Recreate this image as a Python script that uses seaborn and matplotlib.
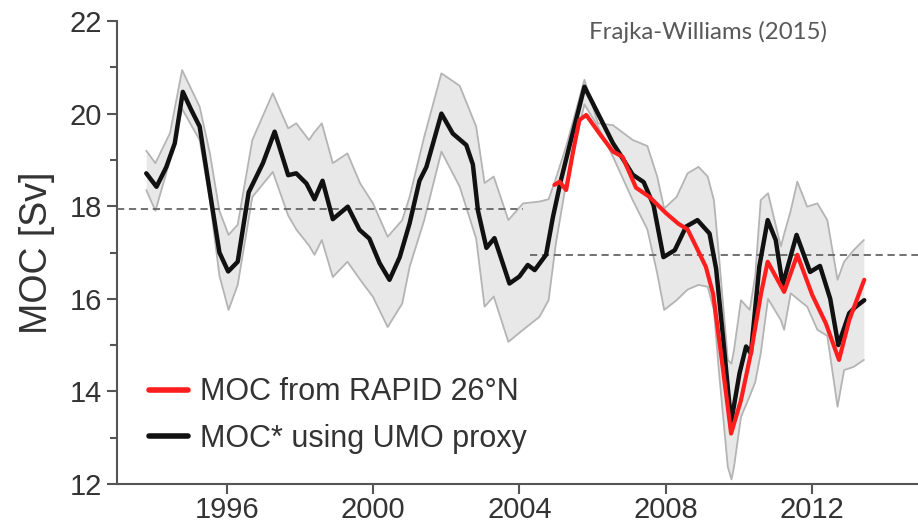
import matplotlib
matplotlib.use("Agg")
import matplotlib.pyplot as plt
import seaborn as sns
import pandas as pd

# ---- data ----
black_years = [1993.8, 1994.08, 1994.35, 1994.58, 1994.8, 1995.03, 1995.26, 1995.5, 1995.8, 1996.04,
               1996.3, 1996.6, 1996.99, 1997.31, 1997.68, 1997.9, 1998.18, 1998.4, 1998.62, 1998.9,
               1999.31, 1999.63, 1999.9, 2000.18, 2000.45, 2000.73, 2001.0, 2001.27, 2001.46, 2001.87,
               2002.18, 2002.55, 2002.73, 2002.87, 2003.1, 2003.32, 2003.73, 2004.0, 2004.23, 2004.42,
               2004.73, 2004.92, 2005.14, 2005.37, 2005.55, 2005.78, 2006.1, 2006.56, 2006.74, 2007.1,
               2007.4, 2007.67, 2007.94, 2008.25, 2008.56, 2008.87, 2009.2, 2009.38, 2009.56, 2009.79,
               2010.02, 2010.2, 2010.33, 2010.56, 2010.79, 2011.01, 2011.2, 2011.58, 2011.95, 2012.22,
               2012.5, 2012.72, 2013.02, 2013.2, 2013.43]
black_vals = [18.71, 18.42, 18.85, 19.36, 20.47, 20.08, 19.72, 18.5, 17.0, 16.59,
              16.8, 18.3, 18.93, 19.61, 18.67, 18.71, 18.49, 18.15, 18.55, 17.72,
              17.99, 17.49, 17.3, 16.77, 16.41, 16.9, 17.63, 18.55, 18.85, 20.0,
              19.57, 19.32, 18.9, 17.9, 17.1, 17.31, 16.33, 16.48, 16.73, 16.62,
              16.95, 17.77, 18.57, 19.3, 19.86, 20.58, 20.08, 19.36, 19.14, 18.68,
              18.52, 18.02, 16.9, 17.05, 17.56, 17.7, 17.41, 16.65, 15.25, 13.33,
              14.39, 14.97, 14.82, 16.69, 17.7, 17.27, 16.3, 17.38, 16.58, 16.71,
              16.0, 15.0, 15.69, 15.83, 15.97]

red_years = [2004.96, 2005.1, 2005.28, 2005.46, 2005.64, 2005.83, 2006.19, 2006.56, 2006.82, 2007.19,
             2007.56, 2008.01, 2008.35, 2008.6, 2008.85, 2009.1, 2009.3, 2009.56, 2009.79, 2010.06,
             2010.33, 2010.61, 2010.79, 2011.24, 2011.6, 2012.01, 2012.38, 2012.74, 2013.02, 2013.43]
red_vals = [18.46, 18.53, 18.35, 19.14, 19.86, 19.97, 19.57, 19.18, 19.07, 18.4,
            18.2, 17.85, 17.62, 17.5, 17.1, 16.69, 16.1, 14.53, 13.09, 13.81,
            14.82, 16.12, 16.8, 16.15, 16.95, 16.08, 15.47, 14.68, 15.54, 16.41]

band_years = [1993.8, 1994.05, 1994.45, 1994.78, 1995.26, 1995.54, 1995.8, 1996.05, 1996.3, 1996.7,
              1997.26, 1997.68, 1997.9, 1998.25, 1998.4, 1998.6, 1998.9, 1999.3, 1999.65, 2000.0,
              2000.4, 2000.8, 2001.0, 2001.4, 2001.87, 2002.37, 2002.82, 2003.05, 2003.3, 2003.7,
              2004.1, 2004.55, 2004.8, 2005.0, 2005.28, 2005.78, 2006.15, 2006.56, 2007.1, 2007.5,
              2007.77, 2007.96, 2008.3, 2008.6, 2008.9, 2009.15, 2009.32, 2009.45, 2009.7, 2009.8,
              2009.87, 2010.06, 2010.3, 2010.45, 2010.6, 2010.8, 2011.15, 2011.24, 2011.42, 2011.6,
              2011.87, 2012.15, 2012.42, 2012.7, 2012.88, 2013.14, 2013.42]
band_upper = [19.2, 18.93, 19.58, 20.94, 20.15, 19.14, 17.9, 17.38, 17.6, 19.43,
              20.44, 19.68, 19.79, 19.43, 19.6, 19.79, 18.93, 19.14, 18.49, 18.06,
              17.34, 17.7, 18.2, 19.5, 20.87, 20.6, 19.72, 18.5, 18.64, 17.7,
              18.06, 18.1, 18.15, 18.6, 19.29, 20.73, 19.79, 19.75, 19.43, 19.3,
              18.64, 17.95, 18.2, 18.71, 18.85, 18.64, 18.13, 17.0, 14.68, 14.6,
              14.9, 15.97, 15.76, 16.5, 18.13, 18.28, 17.13, 17.4, 17.9, 18.53,
              17.99, 18.06, 17.7, 16.41, 16.8, 17.05, 17.27]
band_lower = [18.35, 17.9, 19.0, 20.1, 19.43, 18.13, 16.5, 15.76, 16.3, 18.2,
              18.74, 17.8, 17.5, 17.15, 16.95, 17.27, 16.47, 16.8, 16.41, 16.04,
              15.39, 15.9, 16.69, 17.7, 19.18, 18.42, 17.3, 15.83, 16.05, 15.07,
              15.33, 15.61, 15.97, 17.2, 18.5, 20.2, 19.72, 19.07, 18.13, 17.5,
              16.55, 15.76, 15.97, 16.2, 16.3, 16.26, 15.76, 14.5, 12.37, 12.1,
              12.37, 13.45, 13.9, 14.2, 14.82, 16.0, 15.54, 15.33, 16.12, 16.0,
              15.83, 15.33, 15.2, 13.67, 14.46, 14.53, 14.68]

mean_starts = [1993.0, 2004.3]
mean_ends = [2004.1, 2015.0]
mean_vals = [17.93, 16.95]

x_ticks = [1996, 2000, 2004, 2008, 2012]
y_ticks = [12, 14, 16, 18, 20, 22]
y_minor = [13, 15, 17, 19, 21]

black_df = pd.DataFrame({"year": black_years, "moc": black_vals})
red_df = pd.DataFrame({"year": red_years, "moc": red_vals})
band_df = pd.DataFrame({"year": band_years, "upper": band_upper, "lower": band_lower})

# ---- style ----
sns.set_style("ticks")
plt.rcParams["font.family"] = ["Liberation Sans", "DejaVu Sans"]

fig = plt.figure(figsize=(9.18, 5.24), dpi=100)
ax = fig.add_axes([117 / 918, 40 / 524, 1 - 117 / 918, 463 / 524])

ax.fill_between(band_df["year"], band_df["lower"], band_df["upper"],
                color="#e8e8e8", linewidth=0, zorder=1)
sns.lineplot(data=band_df, x="year", y="upper", ax=ax, color="#b4b4b4", lw=1.3,
             sort=False, estimator=None, zorder=2)
sns.lineplot(data=band_df, x="year", y="lower", ax=ax, color="#b4b4b4", lw=1.3,
             sort=False, estimator=None, zorder=2)

for s, e, v in zip(mean_starts, mean_ends, mean_vals):
    ax.plot([s, e], [v, v], color="#666666", lw=1.3, ls=(0, (4, 2.6)), zorder=3)

sns.lineplot(data=black_df, x="year", y="moc", ax=ax, color="#111111", lw=3.2,
             sort=False, estimator=None, zorder=4, label="MOC* using UMO proxy")
sns.lineplot(data=red_df, x="year", y="moc", ax=ax, color="#ff1e1e", lw=3.0,
             sort=False, estimator=None, zorder=5, label="MOC from RAPID 26°N")

ax.set_xlim(1993.0, 2014.9)
ax.set_ylim(12, 22)
ax.set_xticks(x_ticks)
ax.set_xticklabels([str(t) for t in x_ticks])
ax.set_yticks(y_ticks)
ax.set_yticks(y_minor, minor=True)
ax.set_xlabel("")
ax.set_ylabel("MOC [Sv]", fontsize=27, color="#333333", labelpad=10)

for sp in ["top", "right"]:
    ax.spines[sp].set_visible(False)
for sp in ["left", "bottom"]:
    ax.spines[sp].set_color("#555555")
    ax.spines[sp].set_linewidth(1.5)
ax.tick_params(axis="both", which="major", direction="out", length=7, width=1.5,
               color="#555555", labelsize=21, labelcolor="#333333", pad=4)
ax.tick_params(axis="x", which="major", pad=2)
ax.tick_params(axis="y", which="minor", direction="out", length=5, width=1.5, color="#555555")

handles, labels = ax.get_legend_handles_labels()
order = [labels.index("MOC from RAPID 26°N"), labels.index("MOC* using UMO proxy")]
leg = ax.legend([handles[i] for i in order], [labels[i] for i in order],
                loc="lower left", bbox_to_anchor=(0.005, 0.005), frameon=False,
                fontsize=22, handlelength=1.3, handletextpad=0.4, labelspacing=0.55)
for t in leg.get_texts():
    t.set_color("#333333")
for line in leg.get_lines():
    line.set_linewidth(4)

fig.text(589 / 918, 1 - 32 / 524, "Frajka-Williams (2015)", fontsize=17.3,
         family=["Lato", "DejaVu Sans"], color="#595959", ha="left", va="center")

fig.savefig("out.png", dpi=100)
